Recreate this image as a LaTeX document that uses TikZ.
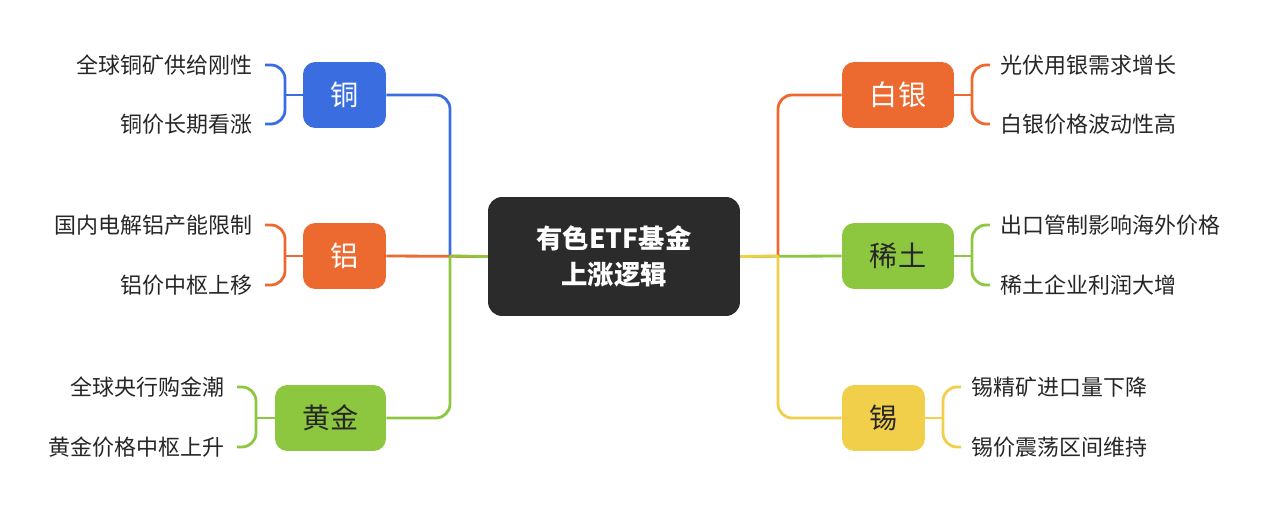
\documentclass[tikz,border=0pt]{standalone}
\usepackage{fontspec}
\setmainfont{Noto Sans CJK SC}
\definecolor{cblue}{HTML}{3A6EE0}
\definecolor{corange}{HTML}{EC6A2F}
\definecolor{cgreen}{HTML}{8DC63F}
\definecolor{cyellow}{HTML}{F2CF4A}
\definecolor{cdark}{HTML}{2B2B2B}
\begin{document}
\begin{tikzpicture}[x=0.02cm,y=-0.02cm,
  topic/.style={rounded corners=7pt,minimum height=1.32cm,font=\fontsize{16}{19}\selectfont,inner sep=0pt},
  leafL/.style={anchor=east,font=\fontsize{12.5}{15}\selectfont,inner sep=0pt,text=black!85},
  leafR/.style={anchor=west,font=\fontsize{12.5}{15}\selectfont,inner sep=0pt,text=black!85},
  ln/.style={line width=1.6pt,rounded corners=8pt}]
\useasboundingbox (0,0) rectangle (1272,513);
\node[fill=cdark,rounded corners=8pt,minimum width=5.04cm,minimum height=2.38cm,text=white,font=\fontsize{15}{20}\selectfont\bfseries,align=center] (c) at (614,256.5) {有色ETF基金\\上涨逻辑};
% left topics
\node[topic,fill=cblue,text=white,minimum width=1.66cm] (cu) at (344.5,95) {铜};
\node[topic,fill=corange,text=white,minimum width=1.66cm] (al) at (344.5,256) {铝};
\node[topic,fill=cgreen,text=black!85,minimum width=2.22cm] (au) at (330.5,418) {黄金};
% right topics
\node[topic,fill=corange,text=white,minimum width=2.24cm] (ag) at (898,95) {白银};
\node[topic,fill=cgreen,text=black!85,minimum width=2.24cm] (re) at (898,256) {稀土};
\node[topic,fill=cyellow,text=black!85,minimum width=1.66cm] (sn) at (883.5,418) {锡};
\coordinate (jl) at (450,256);
\coordinate (jr) at (778,256);
% main connectors
\draw[ln,cblue] (cu.east) -| (jl);
\draw[ln,corange] (al.east) -- (c.west);
\draw[ln,cgreen] (au.east) -| (jl);
\draw[line width=1.6pt,cgreen] (jl) -- (c.west);
\draw[ln,corange] (ag.west) -| (jr);
\draw[ln,cgreen] (re.west) -- (c.east);
\draw[ln,cyellow] (sn.west) -| (jr);
\draw[line width=1.6pt,cyellow] (jr) -- (c.east);
% leaves
\node[leafL] (cu1) at (253,65) {全球铜矿供给刚性};
\node[leafL] (cu2) at (253,124) {铜价长期看涨};
\node[leafL] (al1) at (253,225) {国内电解铝产能限制};
\node[leafL] (al2) at (253,285) {铝价中枢上移};
\node[leafL] (au1) at (225,387) {全球央行购金潮};
\node[leafL] (au2) at (225,447) {黄金价格中枢上升};
\node[leafR] (ag1) at (1000,65) {光伏用银需求增长};
\node[leafR] (ag2) at (1000,124) {白银价格波动性高};
\node[leafR] (re1) at (1000,225) {出口管制影响海外价格};
\node[leafR] (re2) at (1000,285) {稀土企业利润大增};
\node[leafR] (sn1) at (971,387) {锡精矿进口量下降};
\node[leafR] (sn2) at (971,447) {锡价震荡区间维持};
% leaf brackets
\draw[ln,cblue] (cu.west) -- (285,95);
\draw[ln,cblue] (265,65) -| (285,124) -- (265,124);
\draw[ln,corange] (al.west) -- (285,256);
\draw[ln,corange] (265,225) -| (285,285) -- (265,285);
\draw[ln,cgreen] (au.west) -- (256,418);
\draw[ln,cgreen] (237,387) -| (256,447) -- (237,447);
\draw[ln,corange] (ag.east) -- (972,95);
\draw[ln,corange] (990,65) -| (972,124) -- (990,124);
\draw[ln,cgreen] (re.east) -- (972,256);
\draw[ln,cgreen] (990,225) -| (972,285) -- (990,285);
\draw[ln,cyellow] (sn.east) -- (943,418);
\draw[ln,cyellow] (961,387) -| (943,447) -- (961,447);
\end{tikzpicture}
\end{document}
